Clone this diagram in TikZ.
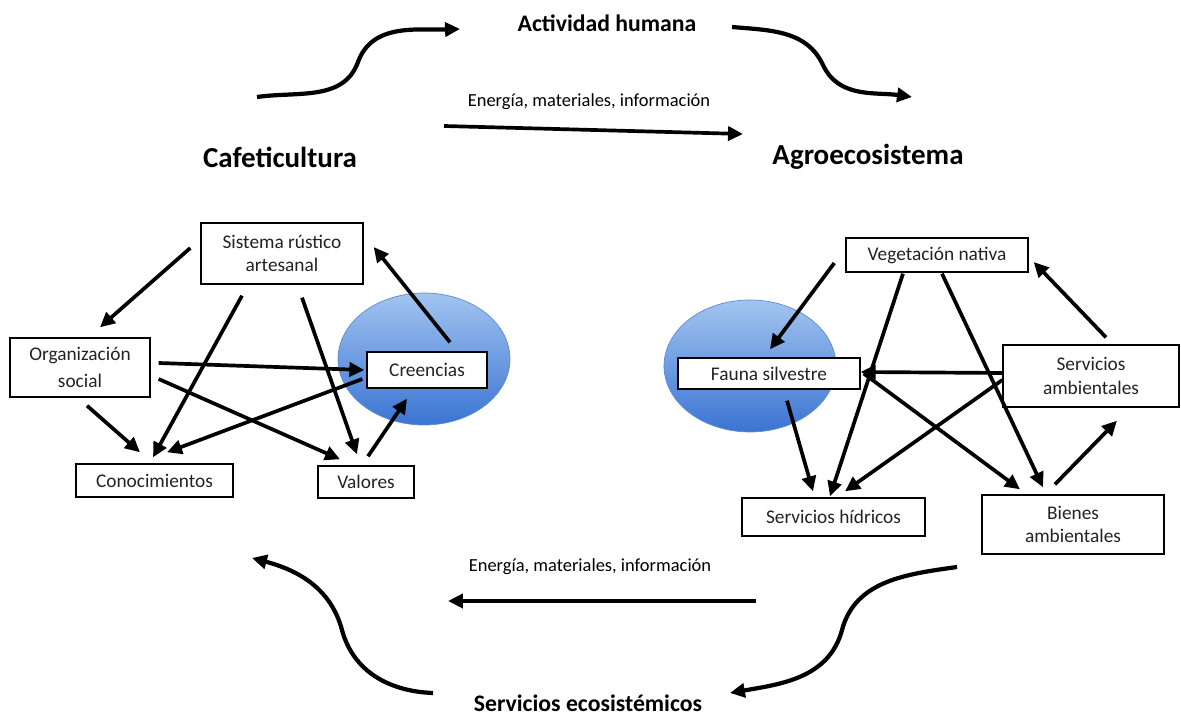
\documentclass[tikz,border=0pt]{standalone}
\usepackage{fontspec}
\setmainfont{Carlito}
\usetikzlibrary{arrows.meta,calc}

\definecolor{azularriba}{RGB}{162,196,240}
\definecolor{azulabajo}{RGB}{58,116,210}
\definecolor{azulborde}{RGB}{95,140,205}
\definecolor{texto}{RGB}{35,35,35}

\tikzset{
  caja/.style={draw,fill=white,line width=0.8pt,inner sep=0pt,text=texto,font=\fontsize{11}{13}\selectfont},
  flecha/.style={line width=2.1pt,-{Triangle[length=8.5pt,width=8pt]}},
  curva/.style={line width=2.4pt,-{Triangle[length=8.5pt,width=8pt]}},
  titulo/.style={font=\bfseries\fontsize{16.5}{19}\selectfont},
  subtitulo/.style={font=\bfseries\fontsize{13.5}{16}\selectfont},
  flujo/.style={font=\fontsize{10.5}{12}\selectfont},
  globo/.style={top color=azularriba,bottom color=azulabajo,draw=azulborde,line width=0.4pt}
}

\begin{document}
\begin{tikzpicture}[x=0.02cm,y=-0.02cm]
\useasboundingbox (0,0) rectangle (1181,715);

% titulos
\node[subtitulo] (act) at (607,23) {Actividad humana};
\node[flujo] (ene1) at (589,102) {Energía, materiales, información};
\node[titulo] (caf) at (280,157) {Cafeticultura};
\node[titulo] (agr) at (868,157) {Agroecosistema};
\node[flujo] (ene2) at (590,567) {Energía, materiales, información};
\node[subtitulo] (ser) at (588,703) {Servicios ecosistémicos};

% elipses
\path[globo] (424,359) ellipse [x radius=1.72cm,y radius=1.32cm];
\path[globo] (750,366) ellipse [x radius=1.72cm,y radius=1.32cm];

% cafeticultura
\node[caja,minimum width=3.24cm,minimum height=1.22cm] (sis) at (282,253.5) {\shortstack{Sistema rústico\\[2.5pt]artesanal}};
\node[caja,minimum width=2.80cm,minimum height=1.18cm] (org) at (80,367.5) {\shortstack{Organización\\[2.5pt]social}};
\node[caja,minimum width=2.40cm,minimum height=0.72cm] (cre) at (427,370) {Creencias};
\node[caja,minimum width=3.14cm,minimum height=0.66cm] (con) at (154.5,480.5) {Conocimientos};
\node[caja,minimum width=1.92cm,minimum height=0.64cm] (val) at (366,482) {Valores};

% agroecosistema
\node[caja,minimum width=3.64cm,minimum height=0.68cm] (veg) at (937,255) {Vegetación nativa};
\node[caja,minimum width=3.64cm,minimum height=0.62cm] (fau) at (769,373.5) {Fauna silvestre};
\node[caja,minimum width=3.52cm,minimum height=1.24cm] (amb) at (1091,376) {\shortstack{Servicios\\[2.5pt]ambientales}};
\node[caja,minimum width=3.66cm,minimum height=0.76cm] (hid) at (833.5,517) {Servicios hídricos};
\node[caja,minimum width=3.64cm,minimum height=1.18cm] (bie) at (1073,524.5) {\shortstack{Bienes\\[2.5pt]ambientales}};

% flechas cafeticultura
\draw[flecha] ($(sis.west)+(-10,-5.5)$) -- ($(org.north)+(20,-10)$);
\draw[flecha] ($(sis.south)+(-40,11)$) -- ($(con.north)+(-1.5,-6)$);
\draw[flecha] ($(sis.south)+(20,13)$) -- ($(val.north)+(-9,-11)$);
\draw[flecha] ($(org.east)+(8,-4.5)$) -- ($(cre.west)+(-2,0)$);
\draw[flecha] ($(org.east)+(8,11.5)$) -- ($(val.north)+(-26,-6)$);
\draw[flecha] ($(org.south)+(7,8)$) -- ($(con.north)+(-14.5,-11)$);
\draw[flecha] ($(cre.west)+(-4,9)$) -- ($(con.north)+(12.5,-11)$);
\draw[flecha] ($(val.north)+(2,-9)$) -- ($(cre.south)+(-20,10)$);
\draw[flecha] ($(cre.north)+(23,-9)$) -- ($(sis.east)+(10,-6.5)$);

% flechas agroecosistema
\draw[flecha] ($(veg.west)+(-11,8)$) -- ($(fau.north)+(1,-8)$);
\draw[flecha] ($(veg.south)+(-34,1)$) -- ($(hid.north)+(-3.5,-1)$);
\draw[flecha] ($(veg.south)+(5,1)$) -- ($(bie.north)+(-30,-7)$);
\draw[flecha] ($(fau.south)+(18,11)$) -- ($(hid.north)+(-20.5,-6)$);
\draw[flecha] ($(fau.east)+(3,0)$) -- ($(bie.north)+(-53,-5)$);
\draw[flecha] ($(amb.west)+(0,-3)$) -- ($(fau.east)+(0,-1.5)$);
\draw[flecha] ($(amb.west)+(0,4)$) -- ($(hid.north)+(11.5,-6)$);
\draw[flecha] ($(bie.north)+(-18,-10)$) -- ($(amb.south)+(26,13)$);
\draw[flecha] ($(amb.north)+(15,-7)$) -- ($(veg.east)+(5,7)$);

% flujos
\coordinate (e1a) at (444,126);
\coordinate (e1b) at (743,134);
\coordinate (e2a) at (756,601);
\coordinate (e2b) at (448,601);
\draw[flecha] (e1a) -- (e1b);
\draw[flecha] (e2a) -- (e2b);

% curvas
\coordinate (c1) at (257,97);  \coordinate (c1m) at (358,62);  \coordinate (c1e) at (460,29);
\coordinate (c2) at (732,27);  \coordinate (c2m) at (823,65);  \coordinate (c2e) at (912,97);
\coordinate (c3) at (433,693); \coordinate (c3m) at (342,630); \coordinate (c3e) at (252,558);
\coordinate (c4) at (957,567); \coordinate (c4m) at (842,630); \coordinate (c4e) at (730,693);
\draw[curva] (c1) to[out=8,in=250] (c1m) to[out=70,in=182] (c1e);
\draw[curva] (c2) to[out=-5,in=115] (c2m) to[out=-65,in=172] (c2e);
\draw[curva] (c3) to[out=178,in=-75] (c3m) to[out=105,in=-15] (c3e);
\draw[curva] (c4) to[out=188,in=75] (c4m) to[out=-105,in=10] (c4e);
\end{tikzpicture}
\end{document}
